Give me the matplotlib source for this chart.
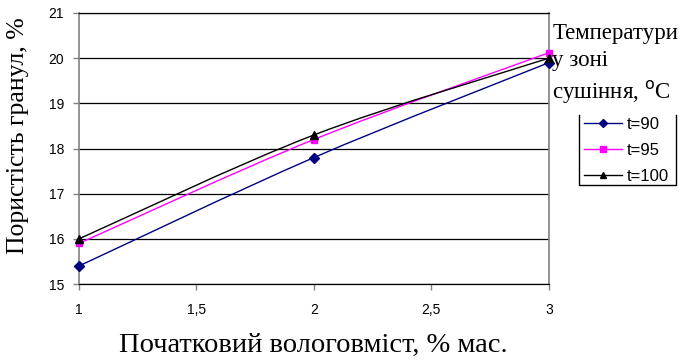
import matplotlib.pyplot as plt
import numpy as np
from matplotlib.path import Path
from matplotlib.patches import PathPatch
from matplotlib.lines import Line2D

moisture = [1, 2, 3]
t90 = [15.4, 17.8, 19.9]
t95 = [15.9, 18.2, 20.12]
t100 = [16.0, 18.3, 20.0]

series = [
    ("t=90", t90, "#000080", "D", 5),
    ("t=95", t95, "#FF00FF", "s", 5),
    ("t=100", t100, "#000000", "^", 6),
]

x_ticks = [1, 1.5, 2, 2.5, 3]
x_tick_labels = ["1", "1,5", "2", "2,5", "3"]
y_ticks = [15, 16, 17, 18, 19, 20, 21]


def smooth_path(xs, ys):
    # cubic bezier through the points, Catmull-Rom style tangents
    pts = np.column_stack([xs, ys]).astype(float)
    n = len(pts)
    verts = [pts[0]]
    codes = [Path.MOVETO]
    for i in range(n - 1):
        p0 = pts[i - 1] if i > 0 else pts[i]
        p1 = pts[i]
        p2 = pts[i + 1]
        p3 = pts[i + 2] if i + 2 < n else pts[i + 1]
        c1 = p1 + (p2 - p0) / 6.0
        c2 = p2 - (p3 - p1) / 6.0
        verts += [c1, c2, p2]
        codes += [Path.CURVE4] * 3
    return Path(verts, codes)


plt.rcParams["font.family"] = ["Liberation Sans", "DejaVu Sans"]

fig = plt.figure(figsize=(6.86, 3.61), dpi=100)
ax = fig.add_axes([0.115, 0.213, 0.685, 0.751])

for label, vals, color, marker, ms in series:
    ax.add_patch(PathPatch(smooth_path(moisture, vals), facecolor="none",
                           edgecolor=color, lw=1.0, zorder=3))
    ax.plot(moisture, vals, linestyle="none", marker=marker, color=color,
            markersize=ms, zorder=4, clip_on=False)

ax.set_xlim(1, 3)
ax.set_ylim(15, 21)
ax.set_xticks(x_ticks)
ax.set_xticklabels(x_tick_labels)
ax.set_yticks(y_ticks)
ax.tick_params(axis="both", labelsize=10, direction="out", length=4.3,
               color="#808080", width=1)
ax.tick_params(axis="x", pad=9)
ax.tick_params(axis="y", pad=6.5)
ax.grid(axis="y", color="black", lw=0.9)
ax.set_axisbelow(True)
for side in ["left", "right"]:
    ax.spines[side].set_color("#808080")
    ax.spines[side].set_linewidth(1.2)
ax.spines["top"].set_color("black")
ax.spines["top"].set_linewidth(0.9)
ax.spines["bottom"].set_color("black")
ax.spines["bottom"].set_linewidth(0.9)

serif = ["Liberation Serif", "DejaVu Serif"]
fig.text(0.026, 0.625, "Пористість гранул, %", family=serif, fontsize=18.5,
         rotation=90, ha="center", va="center")
fig.text(0.457, 0.042, "Початковий вологовміст, % мас.", family=serif,
         fontsize=20.5, ha="center", va="center")

fig.text(0.805, 0.937, "Температури\nу зоні\nсушіння, $^{\\mathrm{o}}$C",
         family=serif, fontsize=16.5, ha="left", va="top", linespacing=1.4)

handles = [Line2D([], [], color=c, marker=m, markersize=ms - 1, lw=1.0)
           for _, _, c, m, ms in series]
leg = fig.legend(handles, [s[0] for s in series], loc="upper left",
                 bbox_to_anchor=(0.851, 0.675), frameon=False,
                 fontsize=12, handlelength=2.3, borderpad=0,
                 labelspacing=0.65, handletextpad=0.3, borderaxespad=0)

# legend frame: open on top
fig.add_artist(Line2D([0.844, 0.844, 0.985, 0.985], [0.681, 0.487, 0.487, 0.681],
                      transform=fig.transFigure, color="black", lw=1.0))

fig.savefig("out.png", dpi=100)
